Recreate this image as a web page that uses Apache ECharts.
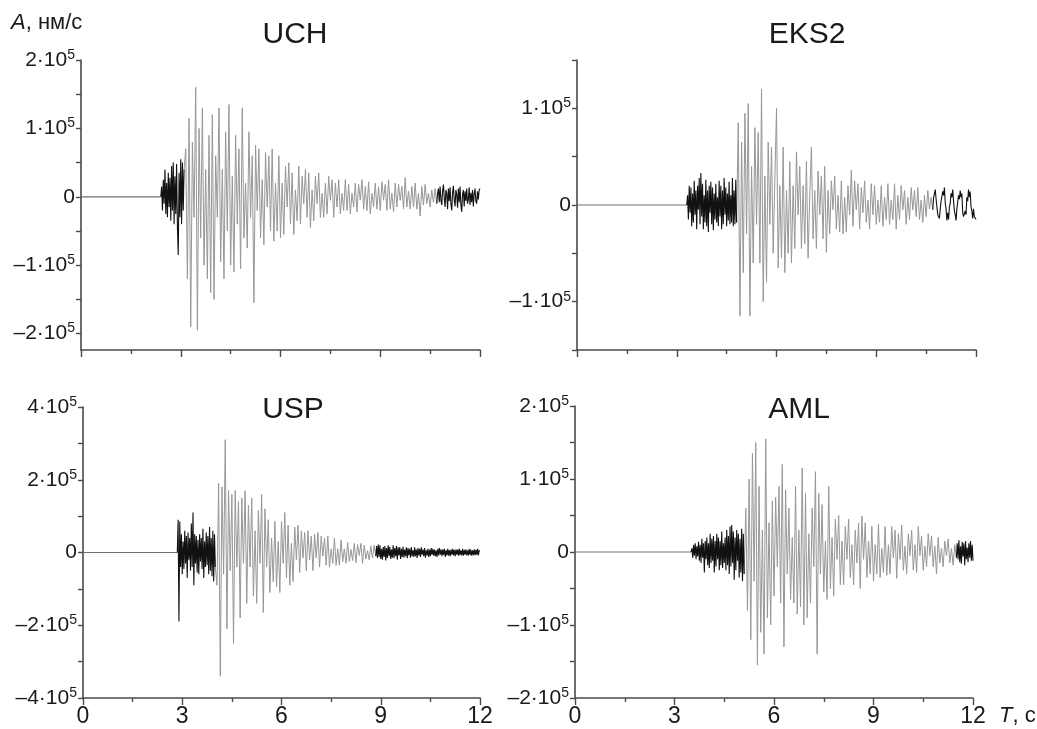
<!DOCTYPE html>
<html>
<head>
<meta charset="utf-8">
<script src="https://cdn.jsdelivr.net/npm/echarts@6/dist/echarts.min.js"></script>
<style>
  html, body { margin: 0; padding: 0; background: #fff; }
  #chart { width: 1037px; height: 729px; }
</style>
</head>
<body>
<div id="chart"></div>
<script>
// Station velocity records, amplitude in units of 10^3 nm/s.
// Onset and coda parts are sampled every 0.025 s, the main phase every 0.05 s.
const fineStep = 0.025;
const coarseStep = 0.05;
const stations = ['UCH', 'EKS2', 'USP', 'AML'];

// ---- UCH ----
const uchOnsetFrom = 2.40, uchMainFrom = 3.10, uchCodaFrom = 10.70;
const uchOnset = [
  0, 15, -20, 25, -10, 40, -25, 20, -30, 35, -15, 28, -35, 45, -20, 50, -40, 30, -25, 48,
  -45, -85, 35, -30, 55, -40, 50, -20, 40
];
const uchMain = [
  40, 70, -120, 115, -190, 80, -30, 160, -195, 100, -60, 130, -100, 40, -120, 90, -140, 120,
  -150, 60, -30, 130, -95, 40, -120, 95, -50, 135, -100, 30, -110, 90, -40, 70, -105, 130, -60, 20,
  -75, 95, -30, 60, -155, 75, -20, 70, -60, 25, -70, 65, -15, 60, -50, 70, -65, 20, -50, 60,
  -60, 20, -55, 45, -15, 50, -40, 35, -55, 10, -35, 45, -40, 30, -10, 40, -30, 35, -45, 10,
  -35, 30, -10, 35, -30, 5, -30, 20, -25, 30, -5, 25, -30, 20, -15, 25, -25, 5, -20, 25,
  -20, 18, -25, 5, -15, 20, -22, 18, -5, 25, -18, 15, -20, 22, -25, 5, -15, 20, -18, 15,
  -20, 22, -5, 18, -20, 25, -18, 5, -22, 20, -15, 18, -5, 15, -18, 28, -15, 8, -18, 15,
  -15, 20, -18, 5, -28, 15, -12, 18, -10, 5, -15, 10, -8, 12, -10
];
const uchCoda = [
  -10, 5, 12, -8, 15, -5, -12, 8, 18, -2, -15, 10, 5, -18, 12, -6, 14, -10, -20, 6,
  16, -4, -14, 10, 3, -16, 12, -8, 15, -12, -22, 4, 10, -14, 8, -6, 12, -10, -4, 14,
  -12, 6, -8, 10, -14, 4, 12, -6, -10, 8, -4, 10, 12
];

// ---- EKS2 ----
const eksOnsetFrom = 3.30, eksMainFrom = 4.80, eksCodaFrom = 10.70;
const eksOnset = [
  0, 10, -15, 20, -8, 18, -22, 12, -18, 25, -10, 15, -25, 20, -5, 28, -20, 33, -12, 22,
  -25, 10, -18, 26, -22, 15, -28, 20, -8, 24, -20, 18, -26, 12, -15, 22, -18, 8, -22, 25,
  -12, 20, -25, 15, -20, 28, -10, 18, -22, 12, -16, 24, -20, 10, -18, 28, -22, 15, -20, 26,
  -18
];
const eksMain = [
  -18, 85, -115, 65,
  -70, 95, -30, 105, -115, 40, -60, 80, -20, 75, -60, 120, -100, 30, -80, 65, -20, 60, -50, 25,
  100, -65, 20, -55, 60, -70, 15, -50, 45, -60, 20, -45, 55, -10, 40, -45, 20, -40, 45, -55,
  10, 60, -35, 15, -45, 35, -10, 30, -35, 40, -49, 15, -30, 25, -5, 30, -25, 10, -28, 25,
  -30, 8, -28, 20, -10, 36, -22, 25, -5, 22, -25, 18, -8, 25, -18, 5, -25, 22, -10, 20,
  -20, 5, -18, 20, -22, 8, -15, 22, -20, 5, -15, 22, -25, 10, -15, 20, -5, 15, -20, 8,
  -15, 18, -5, 15, -12, 18, -15, 5, -18, 10, -12, 15, -4, 8, -5
];
const eksCoda = [
  -5, 8, 10, 16, 6, 4, -10, -8, -14, -4, 4, 2, 14, 10, 18, 2, -4, -16, -8, -15,
  -2, 2, 12, 8, 16, 4, -6, -10, -16, -4, -2, 10, 6, 15, 8, 12, -8, -12, -14, -6,
  -10, 8, 4, 16, 8, 14, -2, -6, -14, -4, -12, -10, -15
];

// ---- USP ----
const uspOnsetFrom = 2.85, uspMainFrom = 4.00, uspCodaFrom = 8.85;
const uspOnset = [
  0, 90, -190, 85, -40, 50, -60, 30, -45, 60, -30, 45, -70, 55, -20, 40, -50, 80, -40, 110,
  -90, 50, -30, 45, -55, 35, -60, 50, -25, 40, -45, 65, -70, 30, -40, 55, -35, 45, -60, 70,
  -50, 40, -65, 60, -80, 50, -40
];
const uspMain = [
  -40, -90, 190, -340, 180, -60, 310, -210, 170, -50, 160, -250, 170, -40, 140, -180, 150, -30, 170, -140,
  130, -40, 150, -120, 60, -140, 115, -30, 160, -165, 120, -40, 90, -110, 40, -80, 85, -95, 30, -110,
  85, -30, 110, -70, 75, -90, 25, -80, 70, -20, 75, -55, 60, -15, 55, -50, 60, -20, 45, -50,
  50, -15, 55, -40, 45, -10, 40, -35, 45, -40, 10, -30, 40, -35, 10, -35, 35, -25, 10, -30,
  28, -25, 8, -22, 25, -28, 22, -8, 25, -30, 20, -18, 5, -20, 18, -15, 20, -10
];
const uspCoda = [
  -10, 18, -15, 22, -12, 20, -18, 10, -20, 15, -12,
  18, -22, 12, -15, 20, -10, 16, -18, 8, -14, 20, -16, 12, -10, 18, -20, 14, -8, 15, -18,
  10, -12, 16, -14, 8, -10, 14, -16, 12, -8, 10, -14, 15, -10, 6, -12, 14, -10, 8, -15,
  12, -8, 10, -12, 14, -6, 8, -10, 12, -14, 6, -8, 10, -12, 8, -10, 12, -6, 10, -9,
  8, -10, 6, -12, 10, -8, 12, -6, 8, -10, 9, -7, 10, -12, 6, -8, 10, -9, 7, -10,
  8, -6, 10, -8, 7, -10, 9, -6, 8, -9, 11, -7, 6, -8, 10, -9, 7, -6, 9, -8,
  6, -8, 10, -7, 8, -9, 6, -7, 9, -8, 7, -6, 10, -8, 6, 4
];

// ---- AML ----
const amlOnsetFrom = 3.50, amlMainFrom = 5.10, amlCodaFrom = 11.50;
const amlOnset = [
  0, 5, -8, 10, -5, 12, -10, 8, -6, 14, -12, 10, -15, 18, -8, 12, -28, 15, -10, 20,
  -18, 12, -22, 25, -15, 18, -12, 22, -28, 15, -20, 25, -10, 20, -25, 15, -18, 28, -22, 12,
  -15, 20, -25, 30, -18, 22, -30, 35, -20, 37, -15, 28, -38, 20, -25, 30, -12, 25, -35, 18,
  -28, 32, -40, 25, -30
];
const amlMain = [
  -30, 60, -80, 100, -120, 135, -40, 150, -155, 90, -110, 30, -140, 155, -90, 40, -100, 70,
  -60, 75, -20, 90, -70, 120, -130, 85, -30, 60, -65, 20, -70, 90, -85, 30, -75, 115, -100, 80,
  -90, 25, -70, 60, -20, 110, -140, 80, -30, 65, -55, 15, -65, 90, -50, 20, -60, 45, -10, 50,
  -45, 15, -45, 35, -10, 45, -35, 10, -45, 30, -15, 40, -50, 49, -10, 40, -35, 15, -30, 35,
  -40, 10, -30, 38, -35, 5, -28, 35, -32, 10, -30, 35, -8, 30, -36, 25, -10, 37, -25, 8,
  -30, 25, -5, 30, -25, 10, -28, 35, -5, 22, -25, 8, -20, 25, -5, 22, -20, 8, -30, 20,
  -15, 5, -20, 15, -5, 18, -15, 5, -18, 10, -8
];
const amlCoda = [
  -8, 12, -10, 16, -14, 8, -16, 14, -6, 12, -18, 15, -10, 6, -14, 12, -8, 15, -12, 10, -12
];

// Axis tick positions (nm/s) for each panel
const uchTicks = [-200000, -150000, -100000, -50000, 0, 50000, 100000, 150000, 200000];
const uchLabels = [-200000, -100000, 0, 100000, 200000];
const eksTicks = [-150000, -100000, -50000, 0, 50000, 100000, 150000];
const eksLabels = [-100000, 0, 100000];
const uspTicks = [-400000, -300000, -200000, -100000, 0, 100000, 200000, 300000, 400000];
const uspLabels = [-400000, -200000, 0, 200000, 400000];
const amlTicks = [-200000, -150000, -100000, -50000, 0, 50000, 100000, 150000, 200000];
const amlLabels = [-200000, -100000, 0, 100000, 200000];
const timeTicks = [0, 3, 6, 9, 12];

const FONT = '"Liberation Sans", Arial, "DejaVu Sans", sans-serif';
const AXIS_COLOR = '#4a4a4a';
const TEXT_COLOR = '#1a1a1a';

function toPoints(t0, step, values) {
  return values.map((v, i) => [+(t0 + i * step).toFixed(3), v * 1000]);
}

function record(onsetFrom, onset, mainFrom, main, codaFrom, coda) {
  return {
    flat: [[0, 0], [onsetFrom, 0]],
    pre: toPoints(onsetFrom, fineStep, onset),
    main: toPoints(mainFrom, coarseStep, main),
    coda: toPoints(codaFrom, fineStep, coda)
  };
}

const records = [
  record(uchOnsetFrom, uchOnset, uchMainFrom, uchMain, uchCodaFrom, uchCoda),
  record(eksOnsetFrom, eksOnset, eksMainFrom, eksMain, eksCodaFrom, eksCoda),
  record(uspOnsetFrom, uspOnset, uspMainFrom, uspMain, uspCodaFrom, uspCoda),
  record(amlOnsetFrom, amlOnset, amlMainFrom, amlMain, amlCodaFrom, amlCoda)
];

const panels = [
  { grid: { left: 81, right: 557, top: 60, bottom: 379 }, min: -224000, max: 200000, ticks: uchTicks, labels: uchLabels, showX: false },
  { grid: { left: 577, right: 61, top: 60, bottom: 379 }, min: -150000, max: 150000, ticks: eksTicks, labels: eksLabels, showX: false },
  { grid: { left: 83, right: 557, top: 407, bottom: 31 }, min: -400000, max: 400000, ticks: uspTicks, labels: uspLabels, showX: true },
  { grid: { left: 575, right: 64, top: 406, bottom: 31 }, min: -200000, max: 200000, ticks: amlTicks, labels: amlLabels, showX: true }
];

function yLabel(v) {
  if (v === 0) return '{m|0}';
  const k = Math.round(Math.abs(v) / 100000);
  return '{m|' + (v < 0 ? '–' : '') + k + '·10}{s|5}';
}

const grids = [], xAxes = [], yAxes = [], series = [];
panels.forEach((p, i) => {
  grids.push(Object.assign({ containLabel: false }, p.grid));
  xAxes.push({
    type: 'value', gridIndex: i, min: 0, max: 12, interval: 3,
    axisLine: { onZero: false, lineStyle: { color: AXIS_COLOR, width: 1.6 } },
    axisTick: { show: true, length: 7, lineStyle: { color: AXIS_COLOR, width: 1.4 } },
    minorTick: { show: true, splitNumber: 2, length: 4, lineStyle: { color: AXIS_COLOR, width: 1.4 } },
    splitLine: { show: false },
    axisLabel: {
      show: p.showX, margin: 7, fontSize: 23, color: TEXT_COLOR, fontFamily: FONT,
      customValues: timeTicks, formatter: v => String(v)
    }
  });
  yAxes.push({
    type: 'value', gridIndex: i, min: p.min, max: p.max,
    axisLine: { show: true, lineStyle: { color: AXIS_COLOR, width: 1.6 } },
    axisTick: { show: true, length: 5, customValues: p.ticks, lineStyle: { color: AXIS_COLOR, width: 1.4 } },
    splitLine: { show: false },
    axisLabel: {
      customValues: p.labels, margin: 6, color: TEXT_COLOR, fontFamily: FONT,
      formatter: yLabel,
      rich: {
        m: { fontSize: 21, lineHeight: 24, color: TEXT_COLOR, fontFamily: FONT, verticalAlign: 'middle' },
        s: { fontSize: 14, lineHeight: 14, color: TEXT_COLOR, fontFamily: FONT, verticalAlign: 'top' }
      }
    }
  });
  const r = records[i];
  const base = { type: 'line', xAxisIndex: i, yAxisIndex: i, showSymbol: false, symbol: 'none', silent: true, animation: false };
  series.push(Object.assign({}, base, { name: stations[i] + ' baseline', data: r.flat, lineStyle: { color: '#707070', width: 1.2 } }));
  series.push(Object.assign({}, base, { name: stations[i] + ' main', data: r.main, lineStyle: { color: '#979797', width: 1 } }));
  series.push(Object.assign({}, base, { name: stations[i] + ' onset', data: r.pre, lineStyle: { color: '#111', width: 1.1 } }));
  series.push(Object.assign({}, base, { name: stations[i] + ' coda', data: r.coda, lineStyle: { color: '#111', width: 1.1 } }));
});

const titleStyle = { fontSize: 30, fontFamily: FONT, fill: TEXT_COLOR, textAlign: 'center', textVerticalAlign: 'bottom' };
const graphics = [
  { type: 'text', x: 295, y: 50, style: Object.assign({ text: stations[0] }, titleStyle) },
  { type: 'text', x: 807, y: 50, style: Object.assign({ text: stations[1] }, titleStyle) },
  { type: 'text', x: 293, y: 425, style: Object.assign({ text: stations[2] }, titleStyle) },
  { type: 'text', x: 799, y: 425, style: Object.assign({ text: stations[3] }, titleStyle) },
  { type: 'text', x: 11, y: 12, style: {
      text: '{i|A}{r|, нм/с}', fontFamily: FONT, fill: TEXT_COLOR,
      rich: { i: { fontSize: 22, fontStyle: 'italic', fontFamily: FONT, fill: TEXT_COLOR },
              r: { fontSize: 22, fontFamily: FONT, fill: TEXT_COLOR } } } },
  { type: 'text', x: 999, y: 705, style: {
      text: '{i|T}{r|, с}', fontFamily: FONT, fill: TEXT_COLOR,
      rich: { i: { fontSize: 22, fontStyle: 'italic', fontFamily: FONT, fill: TEXT_COLOR },
              r: { fontSize: 22, fontFamily: FONT, fill: TEXT_COLOR } } } }
];

const chart = echarts.init(document.getElementById('chart'), null, { renderer: 'canvas' });
chart.setOption({
  animation: false,
  backgroundColor: '#ffffff',
  grid: grids,
  xAxis: xAxes,
  yAxis: yAxes,
  series: series,
  graphic: graphics
});
</script>
</body>
</html>
